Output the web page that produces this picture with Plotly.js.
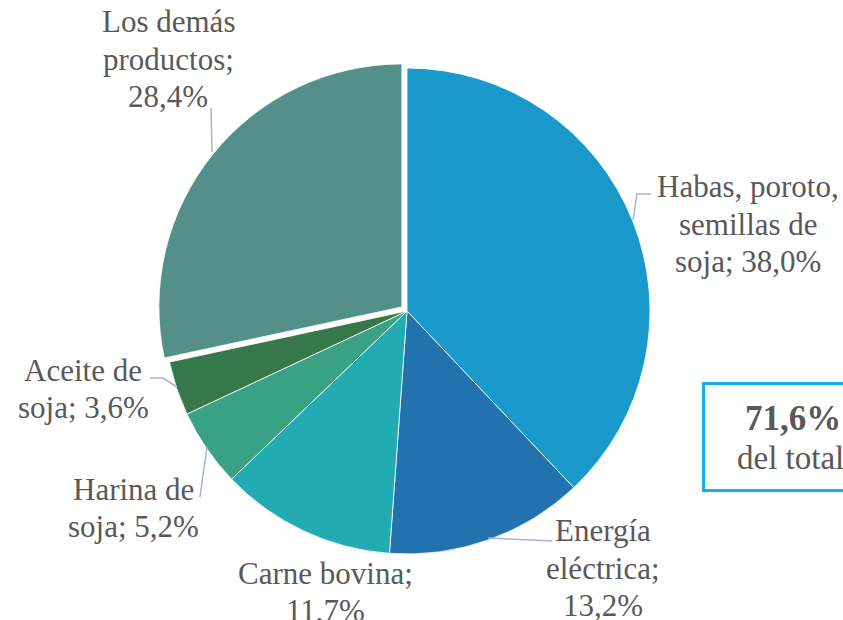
<!DOCTYPE html>
<html>
<head>
<meta charset="utf-8">
<script src="https://cdn.plot.ly/plotly-3.0.1.min.js"></script>
<style>
html,body{margin:0;padding:0;background:#fff;}
#chart{width:843px;height:620px;}
</style>
</head>
<body>
<div id="chart"></div>
<script>
// ---- data ----
const categories = ["Habas, poroto, semillas de soja", "Energía eléctrica", "Carne bovina", "Harina de soja", "Aceite de soja", "Los demás productos"];
const shares = [38.0, 13.2, 11.7, 5.2, 3.6, 28.4];
const labelLines = [
  ["Habas, poroto,", "semillas de", "soja; 38,0%"],
  ["Energía", "eléctrica;", "13,2%"],
  ["Carne bovina;", "11,7%"],
  ["Harina de", "soja; 5,2%"],
  ["Aceite de", "soja; 3,6%"],
  ["Los demás", "productos;", "28,4%"]
];
const boxLines = ["71,6%", "del total"];
const sliceColors = ["#1A9ACB", "#2272AE", "#22ABB3", "#38A283", "#37784B", "#548F8A"];
const pulls = [0, 0, 0, 0, 0, 0.027];

// ---- layout helpers (pixel -> paper) ----
const W = 843, H = 620;
const px = x => x / W;
const py = y => 1 - y / H;

const cx = 407, cy = 311, r = 243;
const half = r * (1 + 0.027);

const labelPos = [
  [748, 224], [603, 568], [325, 592], [133, 508], [83, 389], [168, 59]
];
const LH = 37.5;
const SERIF = "Liberation Serif";
const wrap = t => "<span style=\"font-family:Liberation Serif\">" + t + "</span>";

const annotations = [];
labelLines.forEach((lines, i) => {
  const n = lines.length;
  lines.forEach((ln, j) => {
    annotations.push({
      text: wrap(ln),
      x: px(labelPos[i][0]),
      y: py(labelPos[i][1] + (j - (n - 1) / 2) * LH),
      xref: "paper", yref: "paper", xanchor: "center", yanchor: "middle",
      showarrow: false, font: {family: SERIF, size: 31, color: "#595959"}
    });
  });
});
// highlighted box
annotations.push({
  text: " ", x: px(702), y: py(382), xref: "paper", yref: "paper",
  xanchor: "left", yanchor: "top", showarrow: false,
  font: {family: SERIF, size: 10, color: "#fff"},
  width: 180, height: 104, borderpad: 0,
  bordercolor: "#1AADE3", borderwidth: 3, bgcolor: "#fff"
});
annotations.push({
  text: wrap("<b>" + boxLines[0] + "</b>"), x: px(793), y: py(418), xref: "paper", yref: "paper",
  xanchor: "center", yanchor: "middle", showarrow: false,
  font: {family: SERIF, size: 35, color: "#595959"}
});
annotations.push({
  text: wrap(boxLines[1]), x: px(790), y: py(458), xref: "paper", yref: "paper",
  xanchor: "center", yanchor: "middle", showarrow: false,
  font: {family: SERIF, size: 33, color: "#595959"}
});

const leaders = [
  [[651, 194], [637, 194], [633, 220]],
  [[552, 541], [488, 538]],
  [[200, 497], [207, 447]],
  [[150, 378], [163, 378], [177, 387]],
  [[211, 108], [212, 152]]
];
const shapes = leaders.map(pts => ({
  type: "path", xref: "paper", yref: "paper",
  path: pts.map((p, i) => (i ? "L" : "M") + px(p[0]) + "," + py(p[1])).join(" "),
  line: {color: "#A7B3DA", width: 1.5}
}));

const data = [{
  type: "pie",
  labels: categories,
  values: shares,
  sort: false,
  direction: "clockwise",
  rotation: 0,
  pull: pulls,
  textinfo: "none",
  hoverinfo: "label+percent",
  marker: {colors: sliceColors, line: {color: "#ffffff", width: 0.8}},
  domain: {x: [px(cx - half), px(cx + half)], y: [py(cy + half), py(cy - half)]},
  showlegend: false
}];

const layout = {
  width: W, height: H,
  margin: {l: 0, r: 0, t: 0, b: 0},
  paper_bgcolor: "#fff",
  font: {family: SERIF},
  showlegend: false,
  annotations: annotations,
  shapes: shapes
};
Plotly.newPlot("chart", data, layout, {staticPlot: true});
</script>
</body>
</html>
